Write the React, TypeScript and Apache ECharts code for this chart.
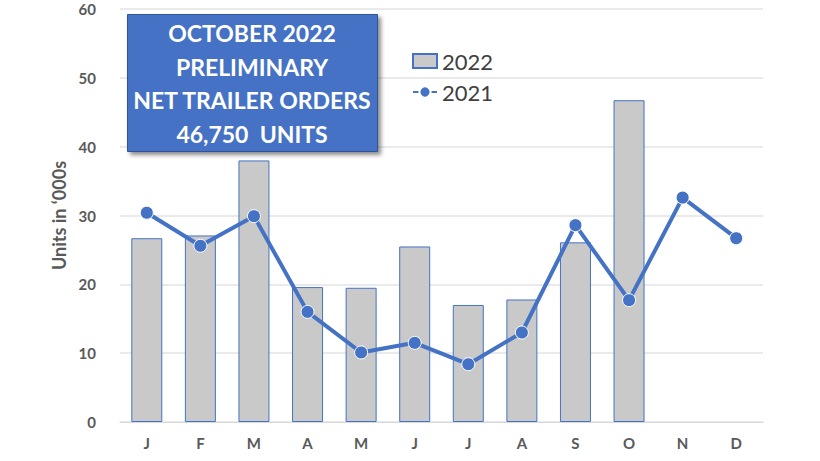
import { useEffect, useRef } from 'react';
import * as echarts from 'echarts';

const months = ['J', 'F', 'M', 'A', 'M', 'J', 'J', 'A', 'S', 'O', 'N', 'D'];
const orders2022: (number | null)[] = [26.7, 27.1, 38.0, 19.6, 19.5, 25.5, 17.0, 17.8, 26.1, 46.75, null, null];
const orders2021 = [30.4, 25.6, 29.9, 16.0, 10.1, 11.5, 8.4, 13.0, 28.6, 17.7, 32.6, 26.7];
const boxLines = ['OCTOBER 2022', 'PRELIMINARY', 'NET TRAILER ORDERS', '46,750  UNITS'];

const FONT = 'Lato, "Open Sans", sans-serif';
const BLUE = '#4472C4';

const App = () => {
    const chartRef = useRef<HTMLDivElement>(null);

    useEffect(() => {
        if (!chartRef.current) return;
        const chart = echarts.init(chartRef.current, null, { renderer: 'svg' });

        chart.setOption({
            animation: false,
            backgroundColor: '#ffffff',
            textStyle: { fontFamily: FONT },
            grid: { left: 120, right: 57, top: 9, bottom: 39 },
            legend: {
                orient: 'vertical',
                left: 407,
                top: 45,
                itemWidth: 24,
                itemHeight: 14,
                itemGap: 9,
                textStyle: { fontSize: 22, color: '#404040', fontFamily: FONT },
                data: [
                    { name: '2022', icon: 'rect' },
                    { name: '2021' }
                ]
            },
            xAxis: {
                type: 'category',
                data: months,
                axisTick: { show: false },
                axisLine: { lineStyle: { color: '#d9d9d9', width: 1 } },
                axisLabel: { color: '#595959', fontSize: 15, fontWeight: 'bold', margin: 13 }
            },
            yAxis: {
                type: 'value',
                min: 0,
                max: 60,
                interval: 10,
                name: 'Units in \u2018000s',
                nameLocation: 'middle',
                nameGap: 50,
                nameTextStyle: { color: '#595959', fontSize: 18, fontWeight: 'bold' },
                axisLine: { show: false },
                axisTick: { show: false },
                axisLabel: { color: '#595959', fontSize: 15, fontWeight: 'bold', margin: 24 },
                splitLine: { lineStyle: { color: '#e3e3e3', width: 1.5 } }
            },
            series: [
                {
                    name: '2022',
                    type: 'bar',
                    data: orders2022,
                    barWidth: 31,
                    itemStyle: { color: '#c9c9c9', borderColor: BLUE, borderWidth: 1 }
                },
                {
                    name: '2021',
                    type: 'line',
                    data: orders2021,
                    symbol: 'circle',
                    symbolSize: 13,
                    lineStyle: { color: BLUE, width: 4 },
                    itemStyle: { color: BLUE, borderColor: '#ffffff', borderWidth: 1 }
                }
            ],
            graphic: [
                {
                    type: 'rect',
                    left: 127,
                    top: 14,
                    z: 100,
                    zlevel: 1,
                    shape: { x: 0, y: 0, width: 250, height: 137 },
                    style: {
                        fill: BLUE,
                        stroke: '#2f5597',
                        lineWidth: 1,
                        shadowBlur: 4,
                        shadowOffsetX: 3,
                        shadowOffsetY: 3,
                        shadowColor: 'rgba(0,0,0,0.45)'
                    }
                },
                ...boxLines.map((line, i) => ({
                    type: 'text',
                    x: 252,
                    y: 33 + i * 33.5,
                    z: 101,
                    zlevel: 1,
                    style: {
                        text: line,
                        fill: '#ffffff',
                        font: `bold 23px ${FONT}`,
                        textAlign: 'center',
                        textVerticalAlign: 'middle'
                    }
                }))
            ]
        });

        return () => {
            chart.dispose();
        };
    }, []);

    return (
        <div
            ref={chartRef}
            style={{ position: 'fixed', top: 0, left: 0, width: 820, height: 461 }}
        />
    );
};

export default App;
